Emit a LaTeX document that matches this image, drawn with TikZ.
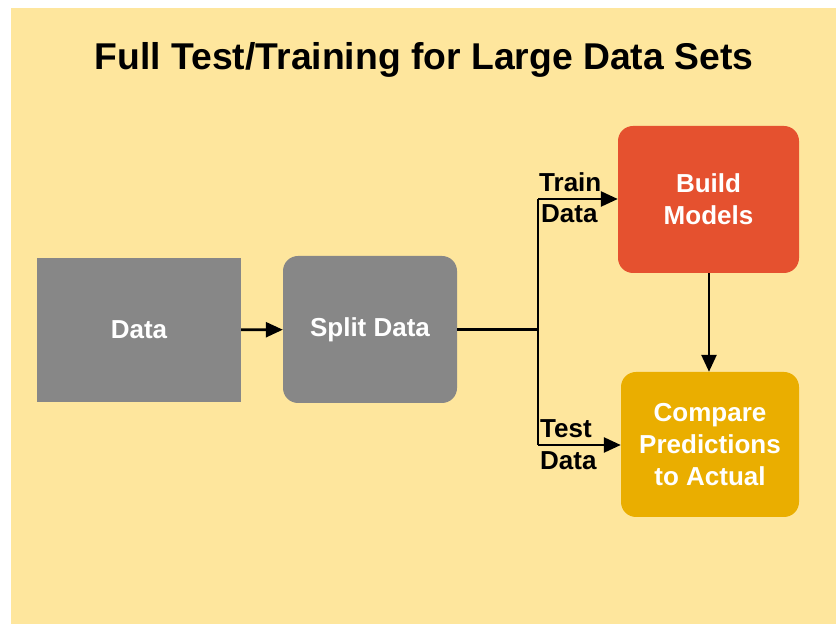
\documentclass[tikz,border=0pt]{standalone}
\usepackage{fontspec}
\setmainfont{Liberation Sans}
\usetikzlibrary{arrows.meta}
\definecolor{bgyellow}{HTML}{FEE69D}
\definecolor{boxgray}{HTML}{878787}
\definecolor{boxred}{HTML}{E5512F}
\definecolor{boxgold}{HTML}{EAAE00}
\tikzset{
  box/.style={inner sep=0pt, text=white, align=center, font=\fontsize{26}{32}\selectfont\bfseries},
  conn/.style={line width=2.6pt, -{Triangle[length=17pt,width=15pt]}},
  plain/.style={line width=2.6pt},
  lbl/.style={anchor=base west, inner sep=0pt, font=\fontsize{26}{32}\selectfont\bfseries}
}
\begin{document}
\begin{tikzpicture}[x=1pt,y=1pt]
\useasboundingbox (0,0) rectangle (836,624);
\fill[bgyellow] (11,0) rectangle (836,616);
\node[font=\fontsize{37.3}{44}\selectfont\bfseries, anchor=base, inner sep=0pt] (title) at (424,554) {Full Test/Training for Large Data Sets};
\node[box, fill=boxgray, minimum width=204pt, minimum height=144pt] (data) at (139,294) {Data};
\node[box, fill=boxgray, rounded corners=15pt, minimum width=174pt, minimum height=147pt] (split) at (370,294.5) {Split Data};
\node[box, fill=boxred, rounded corners=15pt, minimum width=181pt, minimum height=147pt] (build) at (708.5,424.5) {Build\\Models};
\node[box, fill=boxgold, rounded corners=15pt, minimum width=178pt, minimum height=145pt] (compare) at (710,179.5) {Compare\\Predictions\\to Actual};
\coordinate (jt) at (538,425);
\coordinate (jb) at (538,179);
\draw[conn] (data) -- (split);
\draw[plain] (split.east) -- (split.east -| jt);
\draw[plain] (jt) -- (jb);
\draw[conn] (jt) -- (jt -| build.west);
\draw[conn] (jb) -- (jb -| compare.west);
\draw[conn] (build.south -| 709,0) -- (compare.north -| 709,0);
\node[lbl] (train1) at (539,432) {Train};
\node[lbl] (train2) at (541,401) {Data};
\node[lbl] (test1) at (540,186) {Test};
\node[lbl] (test2) at (540,154) {Data};
\end{tikzpicture}
\end{document}
